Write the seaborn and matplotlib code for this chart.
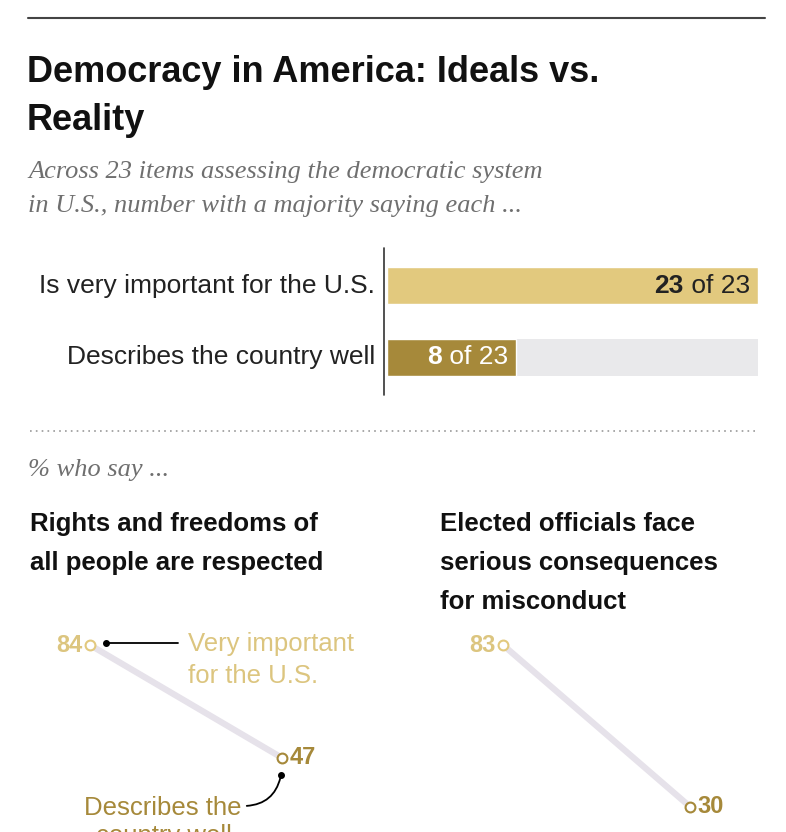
import matplotlib
matplotlib.use("Agg")
import matplotlib.pyplot as plt
import pandas as pd
import seaborn as sns
from matplotlib.lines import Line2D
from matplotlib.patches import FancyArrowPatch

W, H = 786, 832

bar_labels = ["Is very important for the U.S.", "Describes the country well"]
bar_values = [23, 8]
bar_total = 23

slope_titles = [["Rights and freedoms of", "all people are respected"],
                ["Elected officials face", "serious consequences", "for misconduct"]]
important_vals = [84, 83]
describes_vals = [47, 30]

LIGHT = "#E2C97E"
DARK = "#A6893A"
LIGHT_TXT = "#DCC57F"
GREY_BG = "#E9E9EB"
SLOPE = "#E6E2EA"

sns.set_theme(style="white")
plt.rcParams["font.family"] = ["Liberation Sans", "DejaVu Sans"]

fig = plt.figure(figsize=(W / 100, H / 100), dpi=100)
renderer = fig.canvas.get_renderer()


def px_axes(x0, y0, x1, y1):
    return fig.add_axes([x0 / W, 1 - y1 / H, (x1 - x0) / W, (y1 - y0) / H])


def ft(x, y, s, **kw):
    return fig.text(x / W, 1 - y / H, s, **kw)


def fline(xs, ys, **kw):
    fig.add_artist(Line2D([x / W for x in xs], [1 - y / H for y in ys], **kw))


fline([28, 765], [18, 18], color="#444444", lw=1.5)
ft(27, 72, "Democracy in America: Ideals vs.", fontsize=26, fontweight="bold", va="center", color="#111111")
ft(27, 120, "Reality", fontsize=26, fontweight="bold", va="center", color="#111111")
SER = dict(fontsize=19, style="italic", family="Liberation Serif", color="#6f6f6f", va="center")
ft(28, 172, "Across 23 items assessing the democratic system", **SER)
ft(28, 206, "in U.S., number with a majority saying each ...", **SER)

# bar section
ax = px_axes(387, 248, 758, 395)
df = pd.DataFrame({"label": bar_labels, "value": bar_values})
ax.barh([0, 1], [bar_total, bar_total], height=0.51, color=GREY_BG, lw=0)
sns.barplot(data=df, y="label", x="value", hue="label",
            palette=[LIGHT, DARK], orient="h", width=0.51, ax=ax, legend=False,
            saturation=1)
ax.set_xlim(0, bar_total)
ax.set_ylim(1.52, -0.52)
ax.axis("off")
fline([384, 384], [248, 395], color="#333333", lw=1.2)
for i, (val, col) in enumerate(zip(bar_values, ["#222222", "white"])):
    xr = 387 + val / bar_total * 371 - 8
    yc = 286 if i == 0 else 357
    t = ft(xr, yc, f" of {bar_total}", ha="right", va="center", fontsize=19, color=col)
    w = t.get_window_extent(renderer).width
    ft(xr - w, yc, str(val), ha="right", va="center", fontsize=19,
       fontweight="bold", color=col)
for lab, y in zip(bar_labels, [286, 357]):
    ft(375, y, lab, ha="right", va="center", fontsize=19, color="#222222")

fline([30, 755], [431, 431], color="#999999", lw=1.2, ls=(0, (1, 2.5)))
ft(28, 470, "% who say ...", **SER)
for x, lines in zip([30, 440], slope_titles):
    for j, t in enumerate(lines):
        ft(x, 524 + 39 * j, t, fontsize=18.5, fontweight="bold", va="center",
           color="#111111")

# slope charts
panels = [(90, 282), (503, 690)]
for (x0, x1), v1, v2 in zip(panels, important_vals, describes_vals):
    top = 645 - (100 - v1) * 3.05
    a = px_axes(x0, top, x1, 832)
    a.set_xlim(0, 1)
    a.set_ylim(100 - (832 - top) / 3.05, 100)
    sdf = pd.DataFrame({"x": [0, 1], "y": [v1, v2]})
    sns.lineplot(data=sdf, x="x", y="y", color=SLOPE, lw=4.5, ax=a,
                 solid_capstyle="round")
    a.scatter([0], [v1], s=50, facecolor="white", edgecolor=LIGHT, lw=1.5,
              zorder=3, clip_on=False)
    a.scatter([1], [v2], s=50, facecolor="white", edgecolor=DARK, lw=1.5,
              zorder=3, clip_on=False)
    a.axis("off")
    a.text(-0.04, v1, str(v1), ha="right", va="center", fontsize=17,
           fontweight="bold", color=LIGHT_TXT)
    a.text(1.04, v2, str(v2), ha="left", va="center", fontsize=17,
           fontweight="bold", color=DARK)

# annotations on first panel
fline([106, 178], [643, 643], color="black", lw=1.3)
fig.add_artist(Line2D([106 / W], [1 - 643 / H], marker="o", ms=4, color="black"))
ft(188, 644, "Very important", fontsize=18.5, color=LIGHT_TXT, va="center")
ft(188, 676, "for the U.S.", fontsize=18.5, color=LIGHT_TXT, va="center")
fig.add_artist(Line2D([281 / W], [1 - 775 / H], marker="o", ms=4, color="black"))
fig.add_artist(FancyArrowPatch((281 / W, 1 - 775 / H), (244 / W, 1 - 806 / H),
                               connectionstyle="arc3,rad=-0.4", arrowstyle="-",
                               color="black", lw=1.3, transform=fig.transFigure))
ft(241, 808, "Describes the", fontsize=18.5, color=DARK, va="center", ha="right")
ft(232, 836, "country well", fontsize=18.5, color=DARK, va="center", ha="right")

fig.savefig("out.png", dpi=100)
